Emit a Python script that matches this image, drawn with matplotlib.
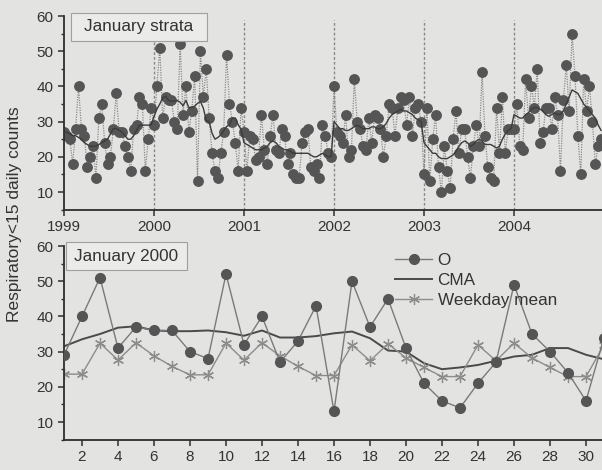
import numpy as np
import matplotlib
matplotlib.use("Agg")
import matplotlib.pyplot as plt
from matplotlib.ticker import MultipleLocator
from matplotlib.patches import Rectangle

plt.rcParams['font.family'] = ['Liberation Sans', 'DejaVu Sans']

# ---------------- data ----------------
years = [1999, 2000, 2001, 2002, 2003, 2004]

obs_1999 = [27, 26, 25, 18, 28, 40, 28, 26, 17, 20, 23, 14, 31, 35, 24, 18, 20, 28, 38, 27, 27, 23, 20, 16, 28, 29, 37, 35, 16, 25, 34]
obs_2000 = [29, 40, 51, 31, 37, 36, 36, 30, 28, 52, 32, 40, 27, 33, 43, 13, 50, 37, 45, 31, 21, 16, 14, 21, 27, 49, 35, 30, 24, 16, 34]
obs_2001 = [27, 16, 26, 25, 19, 20, 32, 22, 18, 26, 32, 22, 21, 28, 26, 18, 21, 15, 14, 14, 24, 27, 28, 17, 16, 18, 14, 29, 26, 21, 20]
obs_2002 = [40, 27, 26, 24, 32, 20, 22, 42, 30, 28, 23, 22, 31, 24, 32, 31, 28, 20, 26, 35, 34, 26, 34, 37, 36, 29, 37, 26, 34, 35, 30]
obs_2003 = [15, 34, 13, 25, 32, 17, 10, 23, 16, 11, 25, 33, 21, 28, 28, 20, 14, 23, 29, 23, 44, 26, 17, 14, 13, 34, 21, 37, 21, 28, 28]
obs_2004 = [28, 35, 23, 22, 42, 31, 40, 34, 45, 24, 27, 34, 34, 28, 37, 32, 16, 36, 46, 33, 55, 43, 26, 15, 42, 33, 40, 30, 18, 23, 25]

cma_1999 = [27, 27, 26.5, 26, 26, 25.5, 25, 24, 23.5, 23, 23, 23, 23.5, 24, 24.5, 25, 26.5, 28, 28, 27.5, 27, 26, 25, 25, 26, 27.5, 29, 29, 29, 29, 29]
cma_2000 = [31.5, 33.5, 35, 36.8, 37.2, 36, 35.8, 35.8, 36, 35.5, 34.5, 36, 34, 34, 34.4, 35.2, 35.7, 33.8, 30.3, 30, 26.7, 25, 25.5, 26.2, 27.4, 28.6, 29.1, 31, 31, 29.1, 27.8]
cma_2001 = [24, 23.5, 23, 22.5, 22, 22, 22, 22.5, 23, 24, 24.5, 24, 23, 22.5, 22, 22, 21.5, 21, 21, 21, 21, 21, 21, 20.5, 20, 20, 20.5, 21, 20.5, 20, 20]
cma_2002 = [30, 29, 28, 28, 27.5, 27.5, 28, 28.5, 29, 28.5, 28, 28, 28, 28.5, 28.5, 28, 28, 28.5, 29.5, 31, 32, 32.5, 33, 33.5, 33, 33, 32.5, 32, 31, 30.5, 30]
cma_2003 = [24, 23, 22, 21, 21, 20, 19.5, 19.5, 19.5, 20, 20.5, 21.5, 23, 24, 24.5, 24, 23, 23.5, 24.5, 25, 24.5, 23.5, 23.5, 23.5, 23, 22.5, 23, 25, 26.5, 27.5, 28]
cma_2004 = [32, 31.5, 31, 31, 32, 32.5, 33.5, 34, 34, 33.5, 33, 32, 31.5, 32, 32.5, 32, 32, 33, 35, 37, 39, 38.5, 38, 36.5, 35, 34, 33, 32, 31, 29, 27.5]

weekday_2000 = [23.6, 23.6, 32.4, 27.6, 32.5, 28.8, 25.8, 23.4, 23.4, 32.4, 27.6, 32.5, 28.8, 25.8,
                23.2, 23.2, 31.9, 27.4, 32.2, 28.2, 25.5, 22.9, 22.9, 31.9, 27.4, 32.4, 28.2, 25.5,
                22.9, 22.9, 31.9]

days = np.arange(1, 32)
obs_all = [obs_1999, obs_2000, obs_2001, obs_2002, obs_2003, obs_2004]
cma_all = [cma_1999, cma_2000, cma_2001, cma_2002, cma_2003, cma_2004]

# position of each January day on a fractional-year axis
x_top = np.concatenate([y + (days - 1) / 31.0 for y in years])
o_top = np.concatenate(obs_all)
c_top = np.concatenate(cma_all)

# ---------------- style ----------------
bg = '#e3e3e1'
dark = '#2e2e2e'
txt = '#333333'
mk = '#555555'

fig = plt.figure(figsize=(6.02, 4.70), dpi=100, facecolor=bg)
ax1 = fig.add_axes([64/602, 260.4/470, 540/602, 193.6/470], facecolor=bg)
ax2 = fig.add_axes([64/602, 30.4/470, 540/602, 193.6/470], facecolor=bg)

for ax in (ax1, ax2):
    for s in ('top', 'right'):
        ax.spines[s].set_visible(False)
    for s in ('left', 'bottom'):
        ax.spines[s].set_color(dark)
        ax.spines[s].set_linewidth(1.3)
    ax.set_ylim(5, 60)
    ax.yaxis.set_major_locator(MultipleLocator(10))
    ax.yaxis.set_minor_locator(MultipleLocator(5))
    ax.tick_params(axis='both', which='major', direction='out', length=4, width=1.1,
                   colors=dark, labelsize=11, labelcolor=txt)
    ax.tick_params(axis='y', which='minor', direction='out', length=2.5, width=1.0, colors=dark)


def label_box(ax, x0, x1, y0, y1, text):
    ax.add_patch(Rectangle((x0, y0), x1 - x0, y1 - y0, transform=ax.transAxes,
                           facecolor='#ebebea', edgecolor='#a0a0a0', lw=0.8,
                           clip_on=False, zorder=5))
    ax.text((x0 + x1) / 2, (y0 + y1) / 2, text, transform=ax.transAxes, ha='center',
            va='center', fontsize=12.3, color=txt, zorder=6)


# ---- top panel ----
ax1.set_xlim(1999, 2005)
ax1.set_xticks(years)
ax1.vlines(years[1:], 5, 59, colors='#888888', linestyles=(0, (2, 1.5)), linewidth=1.0, zorder=1)
ax1.plot(x_top, o_top, color='#8a8a8a', linestyle=(0, (1, 1)), linewidth=0.9,
         marker='o', markersize=6.8, markerfacecolor=mk, markeredgecolor=mk, zorder=2)
ax1.plot(x_top, c_top, color='#3c3c3c', linewidth=1.0, zorder=3)
label_box(ax1, 0.013, 0.265, 0.871, 1.0155, 'January strata')

# ---- bottom panel ----
ax2.set_xlim(1, 31)
ax2.set_xticks(np.arange(2, 31, 2))
ax2.plot(days, obs_2000, color='#7a7a7a', linewidth=1.0, marker='o', markersize=7,
         markerfacecolor=mk, markeredgecolor=mk, label='O', zorder=3)
ax2.plot(days, cma_2000, color='#4a4a4a', linewidth=1.4, label='CMA', zorder=2)
ax2.plot(days, weekday_2000, color='#8c8c8c', linewidth=1.0, marker=(6, 2, 0),
         markersize=8, markeredgewidth=0.9, markeredgecolor='#8c8c8c',
         label='Weekday mean', zorder=2)
label_box(ax2, 0.0037, 0.2278, 0.876, 1.02, 'January 2000')
leg = ax2.legend(loc='upper left', bbox_to_anchor=(0.6, 1.0), frameon=False, fontsize=12.3,
                 handlelength=2.2, handletextpad=0.3, labelspacing=0.3, borderaxespad=0.0)
for t in leg.get_texts():
    t.set_color(txt)

fig.text(15/602, 1 - 214/470, 'Respiratory<15 daily counts', rotation=90, ha='center',
         va='center', fontsize=12.5, color=txt)

fig.savefig('out.png', dpi=100, facecolor=bg)
